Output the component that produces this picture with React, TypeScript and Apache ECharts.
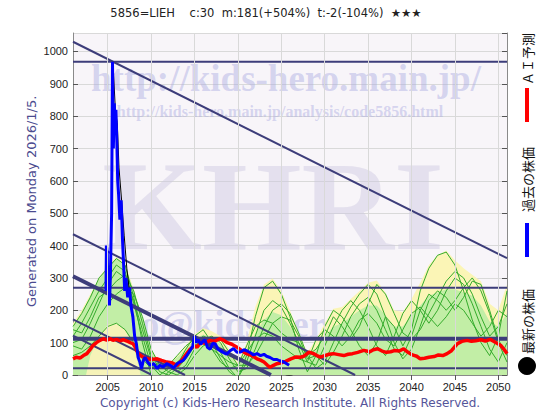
import React, { useEffect, useRef } from "react";
import * as echarts from "echarts";

const titleText = "5856=LIEH    c:30  m:181(+504%)  t:-2(-104%)  ★★★";
const generatedText = "Generated on Monday 2026/1/5.";
const copyrightText = "Copyright (c) Kids-Hero Research Institute. All Rights Reserved.";
const legendLabels = ["ＡＩ予測", "過去の株価", "最新の株価"];
const watermarkUrl = "http://kids-hero.main.jp/";
const watermarkPage = "http://kids-hero.main.jp/analysis/code5856.html";
const watermarkBig = "KHRI";
const watermarkMail = "info@kids-hero.main.jp";

const xTicks = [2005, 2010, 2015, 2020, 2025, 2030, 2035, 2040, 2045, 2050];

const bandYears = [
  2001, 2002, 2003, 2004, 2005, 2006, 2007, 2008, 2009, 2010,
  2011, 2012, 2013, 2014, 2015, 2016, 2017, 2018, 2019, 2020,
  2021, 2022, 2023, 2024, 2025, 2026, 2027, 2028, 2029, 2030,
  2031, 2032, 2033, 2034, 2035, 2036, 2037, 2038, 2039, 2040,
  2041, 2042, 2043, 2044, 2045, 2046, 2047, 2048, 2049, 2050, 2051,
];
const yellowEnvelope = [
  160, 200, 250, 300, 340, 365, 345, 265, 180, 80,
  40, 35, 60, 90, 125, 145, 135, 120, 80, 40,
  100, 210, 280, 298, 260, 200, 130, 70, 110, 160,
  205, 210, 235, 260, 285, 292, 255, 200, 195, 235,
  285, 340, 370, 385, 355, 330, 310, 290, 220, 200, 280,
];
const greenBand = [
  150, 190, 245, 295, 335, 360, 340, 260, 175, 75,
  35, 30, 55, 80, 110, 125, 115, 95, 60, 30,
  70, 130, 170, 195, 185, 150, 110, 60, 80, 120,
  150, 160, 180, 200, 215, 215, 185, 150, 150, 185,
  215, 245, 255, 265, 265, 255, 245, 215, 165, 150, 190,
];
const yellowInner: [number, number][] = [
  [2002.5, 0], [2003, 60], [2004, 120], [2005, 155], [2006, 160], [2007, 140], [2008, 90], [2008.8, 0],
];
const green1 = [
  150, 190, 240, 300, 330, 360, 340, 240, 100, 0,
  -20, 10, 30, 80, 120, 140, 100, 50, 10, -10,
  60, 180, 270, 290, 250, 180, 80, 10, 60, 150,
  200, 180, 140, 90, 60, 100, 180, 150, 90, 140,
  260, 330, 370, 380, 340, 260, 170, 100, 60, 120, 260,
];
const green2 = [
  120, 160, 210, 260, 300, 340, 320, 220, 120, 30,
  0, 20, 40, 60, 100, 120, 110, 70, 20, -10,
  40, 120, 200, 230, 210, 160, 100, 40, 30, 90,
  150, 200, 230, 200, 150, 90, 60, 120, 190, 230,
  200, 160, 200, 260, 300, 280, 220, 150, 80, 40, 100,
];
const green3 = [
  100, 110, 160, 220, 280, 320, 300, 230, 140, 50,
  10, 0, 20, 50, 90, 110, 120, 100, 50, 10,
  20, 80, 150, 200, 220, 190, 130, 60, 20, 40,
  100, 160, 210, 250, 280, 250, 180, 100, 50, 80,
  150, 230, 260, 240, 200, 240, 290, 280, 200, 110, 60,
];
const green4 = [
  140, 130, 180, 240, 260, 290, 310, 260, 160, 60,
  20, 30, 60, 90, 110, 100, 80, 60, 40, 30,
  90, 150, 170, 160, 130, 110, 100, 60, 80, 120,
  180, 150, 110, 150, 220, 280, 250, 190, 130, 110,
  140, 190, 240, 290, 320, 300, 250, 180, 120, 150, 220,
];
const green5 = [
  90, 80, 120, 180, 220, 250, 270, 250, 180, 80,
  30, 10, 0, 20, 60, 90, 100, 110, 70, 30,
  30, 60, 110, 160, 180, 170, 120, 50, 60, 30,
  70, 120, 180, 220, 240, 200, 140, 80, 60, 120,
  200, 250, 230, 200, 230, 270, 300, 260, 190, 100, 40,
];
const green6 = [
  60, 70, 90, 120, 150, 160, 140, 100, 50, 20,
  40, 30, 10, 30, 80, 110, 80, 40, 20, 30,
  70, 110, 130, 120, 90, 70, 50, 40, 110, 140,
  120, 90, 120, 170, 190, 160, 110, 90, 140, 190,
  210, 180, 150, 180, 220, 200, 160, 120, 150, 200, 180,
];
const greenLines = [green1, green2, green3, green4, green5, green6];

const pastPrice: [number, number][] = [
  [2004.8, 260], [2004.85, 400], [2004.95, 380], [2005.0, 280], [2005.2, 215], [2005.3, 300],
  [2005.45, 500], [2005.55, 968], [2005.65, 700], [2005.75, 840], [2005.85, 780], [2005.95, 820],
  [2006.05, 720], [2006.15, 600], [2006.25, 560], [2006.4, 480], [2006.55, 540], [2006.7, 420],
  [2006.85, 330], [2006.95, 260], [2007.1, 300], [2007.3, 240], [2007.5, 270], [2007.7, 210],
  [2007.9, 180], [2008.1, 120], [2008.3, 97], [2008.5, 55], [2008.7, 40], [2008.9, 20],
  [2009.1, 45], [2009.3, 55], [2009.6, 40], [2009.9, 30], [2010.3, 35], [2010.7, 20],
  [2011.0, 30], [2011.4, 25], [2011.8, 35], [2012.2, 30], [2012.6, 22], [2013.0, 35],
  [2013.3, 40], [2013.7, 45], [2014.1, 60], [2014.5, 76], [2014.8, 90], [2015.0, 120],
  [2015.2, 100], [2015.4, 110], [2015.7, 95], [2016.0, 105], [2016.2, 108], [2016.5, 85],
  [2016.8, 80], [2017.1, 98], [2017.4, 96], [2017.7, 80], [2017.9, 76], [2018.3, 70],
  [2018.7, 64], [2019.1, 75], [2019.5, 82], [2019.9, 70], [2020.3, 71], [2020.7, 78],
  [2021.0, 75], [2021.5, 68], [2021.8, 62], [2022.2, 66], [2022.6, 60], [2023.0, 64],
  [2023.3, 58], [2023.7, 54], [2024.1, 48], [2024.5, 48], [2024.8, 44], [2025.3, 40], [2025.9, 30],
];
const closeTrace: [number, number][] = [
  [2005.6, 968], [2005.9, 810], [2006.1, 780], [2006.3, 640], [2006.6, 540], [2006.9, 430],
  [2007.2, 330], [2007.5, 260], [2007.8, 190], [2008.1, 120], [2008.5, 60], [2008.9, 30],
];
const aiForecast: [number, number][] = [
  [2001.0, 50], [2001.4, 55], [2001.8, 52], [2002.2, 60], [2002.6, 66], [2003.0, 80], [2003.3, 91],
  [2003.7, 100], [2004.1, 107], [2004.5, 112], [2004.9, 108], [2005.3, 112], [2005.6, 107],
  [2006.0, 110], [2006.4, 106], [2006.8, 109], [2007.2, 105], [2007.6, 100], [2007.9, 97],
  [2008.2, 85], [2008.5, 66], [2008.9, 58], [2009.5, 50], [2010.0, 48], [2010.7, 50], [2011.2, 45],
  [2011.8, 40], [2012.4, 38], [2013.0, 29], [2013.5, 45], [2014.1, 66], [2014.5, 80], [2015.0, 90],
  [2015.3, 86], [2015.7, 101], [2016.2, 98], [2016.8, 107], [2017.3, 104], [2017.9, 112],
  [2018.3, 108], [2018.7, 101], [2019.3, 95], [2019.9, 86], [2020.4, 76], [2021.0, 66],
  [2021.6, 60], [2022.2, 50], [2022.6, 46], [2023.0, 40], [2023.4, 30], [2023.7, 24], [2024.1, 30],
  [2024.5, 35], [2025.0, 38], [2025.5, 42], [2026.1, 50], [2026.7, 56], [2027.2, 55], [2027.6, 58],
  [2028.2, 71], [2028.7, 66], [2029.1, 60], [2029.5, 55], [2030.0, 60], [2030.5, 64], [2031.0, 66],
  [2031.6, 63], [2032.2, 60], [2032.7, 64], [2033.2, 66], [2033.8, 70], [2034.5, 76], [2035.2, 72],
  [2035.6, 78], [2036.1, 81], [2036.6, 74], [2037.1, 70], [2037.6, 72], [2038.1, 76], [2038.6, 74],
  [2039.1, 81], [2039.6, 70], [2040.1, 62], [2040.6, 58], [2041.0, 50], [2041.5, 52], [2042.0, 55],
  [2042.6, 57], [2043.1, 62], [2043.6, 60], [2044.1, 66], [2044.6, 75], [2045.0, 88], [2045.3, 97],
  [2045.8, 104], [2046.4, 107], [2046.9, 104], [2047.4, 106], [2048.0, 109], [2048.5, 105],
  [2049.1, 110], [2049.6, 102], [2050.0, 96], [2050.3, 91], [2050.7, 78], [2051.0, 66],
];
const latestPrice: [number, number][] = [[2025.9, 30]];

// trend channel lines: [startYear, startValue, endYear, endValue, width]
const trendLines: [number, number, number, number, number][] = [
  [2001, 1030, 2051, 361, 2],
  [2001, 435, 2033.5, 0, 2],
  [2001, 305, 2023.8, 0, 4],
  [2001, 172, 2013.9, 0, 2],
  [2001, 122, 2010.1, 0, 2],
];
// horizontal levels: [value, width]
const levelLines: [number, number][] = [
  [968, 2],
  [270, 2],
  [112, 4],
  [21, 2],
];

const NAVY = "#3d3d7a";

export default function App() {
  const ref = useRef<HTMLDivElement>(null);
  useEffect(() => {
    if (!ref.current) return;
    const chart = echarts.init(ref.current, undefined, { renderer: "svg" });
    const wmColor = "rgba(170,170,225,0.45)";
    const series: any[] = [];
    series.push({
      type: "line",
      data: bandYears.map((y, i) => [y, yellowEnvelope[i]]),
      showSymbol: false,
      lineStyle: { width: 0 },
      areaStyle: { color: "#fbf5b6", opacity: 1 },
      silent: true,
      z: 2,
      markLine: {
        silent: true,
        symbol: ["none", "none"],
        label: { show: false },
        lineStyle: { color: "#d9d9d9", width: 1, type: "solid" },
        data: xTicks.map((v) => ({ xAxis: v })),
      },
    });
    series.push({
      type: "line",
      data: bandYears.map((y, i) => [y, greenBand[i]]),
      showSymbol: false,
      lineStyle: { width: 0 },
      areaStyle: { color: "#c2eea6", opacity: 1 },
      silent: true,
    });
    series.push({
      type: "line",
      data: yellowInner,
      showSymbol: false,
      lineStyle: { width: 0 },
      areaStyle: { color: "#f6f3b8", opacity: 1 },
      silent: true,
    });
    greenLines.forEach((g) => {
      series.push({
        type: "line",
        data: bandYears.map((y, i) => [y, g[i]]),
        showSymbol: false,
        lineStyle: { color: "#35ab2c", width: 1 },
        silent: true,
      });
    });
    trendLines.forEach((t) => {
      series.push({
        type: "line",
        data: [[t[0], t[1]], [t[2], t[3]]],
        showSymbol: false,
        lineStyle: { color: NAVY, width: t[4] },
        silent: true,
      });
    });
    levelLines.forEach((l) => {
      series.push({
        type: "line",
        data: [[2001, l[0]], [2051, l[0]]],
        showSymbol: false,
        lineStyle: { color: NAVY, width: l[1] },
        silent: true,
      });
    });
    series.push({
      type: "line",
      data: closeTrace,
      showSymbol: false,
      lineStyle: { color: "#000", width: 1 },
      silent: true,
    });
    series.push({
      type: "line",
      data: aiForecast,
      showSymbol: false,
      lineStyle: { color: "#ff0000", width: 3.5 },
      silent: true,
    });
    series.push({
      type: "line",
      data: pastPrice,
      showSymbol: false,
      lineStyle: { color: "#0000ff", width: 3 },
      silent: true,
    });
    series.push({
      type: "scatter",
      data: latestPrice,
      symbol: "circle",
      symbolSize: 21,
      itemStyle: { color: "#000" },
      silent: true,
    });

    const axisLineStyle = { show: true, lineStyle: { color: "#8a8a8a", width: 1 } };
    const option: any = {
      animation: false,
      backgroundColor: "#ffffff",
      textStyle: { fontFamily: "DejaVu Sans" },
      grid: {
        left: 73, right: 53, top: 33, bottom: 45,
        show: true, backgroundColor: "#f8f5f9", borderWidth: 0,
      },
      xAxis: [
        {
          type: "value", min: 2001, max: 2051, position: "bottom",
          axisLine: axisLineStyle,
          axisTick: { show: true, inside: true, length: 5, customValues: xTicks, lineStyle: { color: "#555" } },
          axisLabel: {
            customValues: xTicks, color: "#222", fontSize: 11, margin: 6, fontFamily: "Liberation Sans",
            formatter: (v: number) => String(v),
          },
          splitLine: { show: false },
        },
        {
          type: "value", min: 2001, max: 2051, position: "top",
          axisLine: axisLineStyle,
          axisTick: { show: true, inside: true, length: 5, customValues: xTicks, lineStyle: { color: "#555" } },
          axisLabel: { show: false },
          splitLine: { show: false },
        },
      ],
      yAxis: [
        {
          type: "value", min: 0, max: 1057, interval: 100, position: "left",
          axisLine: axisLineStyle,
          axisTick: { show: true, inside: true, length: 5, lineStyle: { color: "#555" } },
          axisLabel: {
            color: "#222", fontSize: 11, margin: 5, fontFamily: "Liberation Sans", showMaxLabel: false,
            formatter: (v: number) => (v % 100 === 0 ? String(v) : ""),
          },
          splitLine: { show: true, lineStyle: { color: "#d9d9d9", width: 1 } },
        },
        {
          type: "value", min: 0, max: 1057, interval: 100, position: "right",
          axisLine: axisLineStyle,
          axisTick: { show: true, inside: true, length: 5, lineStyle: { color: "#555" } },
          axisLabel: { show: false },
          splitLine: { show: false },
        },
      ],
      graphic: [
        { type: "text", z: 1, x: 286, y: 78, silent: true,
          style: { text: watermarkUrl, align: "center", verticalAlign: "middle", fill: wmColor,
            font: "bold 37px 'Liberation Serif'" } },
        { type: "text", z: 1, x: 280, y: 111, silent: true,
          style: { text: watermarkPage, align: "center", verticalAlign: "middle", fill: wmColor,
            font: "bold 16px 'Liberation Serif'" } },
        { type: "text", z: 1, x: 273, y: 206, silent: true,
          style: { text: watermarkBig, align: "center", verticalAlign: "middle", fill: "rgba(205,200,225,0.45)",
            font: "bold 128px 'Liberation Serif'" } },
        { type: "text", z: 1, x: 286, y: 324, silent: true,
          style: { text: watermarkMail, align: "center", verticalAlign: "middle", fill: wmColor,
            font: "bold 37px 'Liberation Serif'" } },
        { type: "text", x: 266, y: 13, silent: true,
          style: { text: titleText, align: "center", verticalAlign: "middle", fill: "#222",
            font: "11.5px 'DejaVu Sans'" } },
        { type: "text", x: 31, y: 307, rotation: Math.PI / 2, silent: true,
          style: { text: generatedText, align: "left", verticalAlign: "middle", fill: "#4b4b8f",
            font: "13px 'DejaVu Sans'" } },
        { type: "text", x: 290, y: 403, silent: true,
          style: { text: copyrightText, align: "center", verticalAlign: "middle", fill: "#55559a",
            font: "12px 'DejaVu Sans'" } },
        { type: "text", x: 527, y: 85, rotation: Math.PI / 2, silent: true,
          style: { text: legendLabels[0], align: "left", verticalAlign: "middle", fill: "#111",
            font: "13px 'Noto Sans CJK JP'" } },
        { type: "rect", shape: { x: 525, y: 88, width: 4, height: 34 }, style: { fill: "#ff0000" }, silent: true },
        { type: "text", x: 527, y: 212, rotation: Math.PI / 2, silent: true,
          style: { text: legendLabels[1], align: "left", verticalAlign: "middle", fill: "#111",
            font: "13px 'Noto Sans CJK JP'" } },
        { type: "rect", shape: { x: 525, y: 223, width: 4, height: 34 }, style: { fill: "#0000ff" }, silent: true },
        { type: "text", x: 527, y: 354, rotation: Math.PI / 2, silent: true,
          style: { text: legendLabels[2], align: "left", verticalAlign: "middle", fill: "#111",
            font: "13px 'Noto Sans CJK JP'" } },
        { type: "circle", shape: { cx: 527, cy: 366, r: 9 }, style: { fill: "#000" }, silent: true },
      ],
      series,
    };
    chart.setOption(option);
    return () => chart.dispose();
  }, []);
  return <div ref={ref} style={{ position: "fixed", left: 0, top: 0, width: 560, height: 420 }} />;
}
